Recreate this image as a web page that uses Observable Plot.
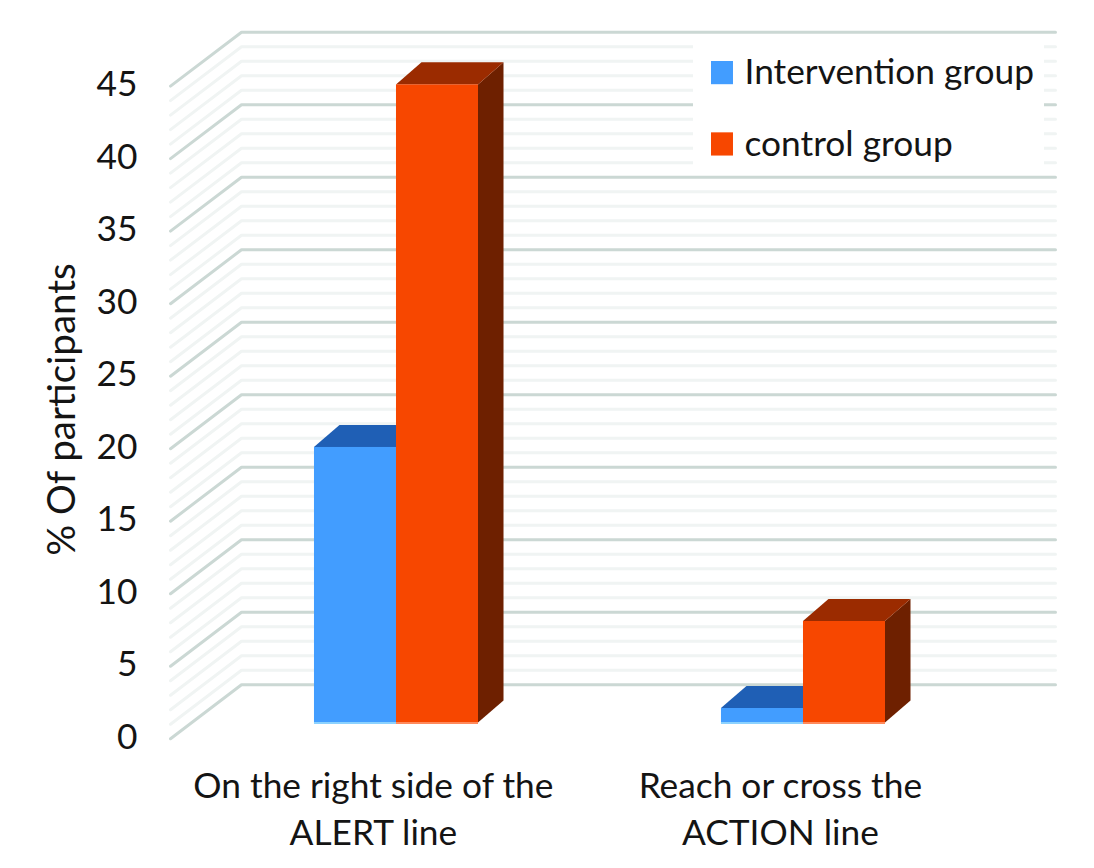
<!DOCTYPE html>
<html><head><meta charset="utf-8">
<style>html,body{margin:0;padding:0;background:#fff}svg{display:block}</style>
<script src="https://cdn.jsdelivr.net/npm/d3@7"></script>
<script src="https://cdn.jsdelivr.net/npm/@observablehq/plot@0.6"></script>
</head><body><script>
const categories = ["On the right side of the\nALERT line", "Reach or cross the\nACTION line"];
const groups = ["Intervention group", "control group"];
const intervention = [19, 1];
const control = [44, 7];
const yTicks = [0, 5, 10, 15, 20, 25, 30, 35, 40, 45];
const yMinor = d3.range(0, 46).filter(v => v % 5 !== 0);
const yTitle = "% Of participants";

const colors = {
  "Intervention group": {front: "#429dff", top: "#1f5fb5", side: "#15407a", base: "#8cd2ff"},
  "control group": {front: "#f74700", top: "#9b2b00", side: "#6e2000", base: "#ff8a5c"}
};
// Projection of the 3D box, expressed in scale units
const wall = {dx: -0.1744, dy: -3.72};
const barW = 0.2015, depthX = 0.0627, depthY = 1.52, baseY = -2.634, groupCentre = 0.3808;

const wallRows = (ticks) => ticks.flatMap(t => [
  {t, x: wall.dx, y: t + wall.dy}, {t, x: 0, y: t}, {t, x: 2, y: t}
]);
const bars = categories.flatMap((c, i) => [
  {g: groups[0], v: intervention[i], x1: i + groupCentre - barW, x2: i + groupCentre},
  {g: groups[1], v: control[i], x1: i + groupCentre, x2: i + groupCentre + barW}
]).map((b, k) => ({...b, k, h: baseY + b.v}));
const faceMarks = bars.flatMap(b => {
  const c = colors[b.g];
  const top = [{y: b.h, a: b.x1, b: b.x2}, {y: b.h + depthY, a: b.x1 + depthX, b: b.x2 + depthX}];
  const side = [{x: b.x2, lo: baseY, hi: b.h}, {x: b.x2 + depthX, lo: baseY + depthY, hi: b.h + depthY}];
  return [
    Plot.areaY(side, {x: "x", y1: "lo", y2: "hi", fill: c.side}),
    Plot.areaX(top, {y: "y", x1: "a", x2: "b", fill: c.top}),
    Plot.rect([b], {x1: "x1", x2: "x2", y1: baseY, y2: "h", fill: c.front}),
    Plot.ruleY([baseY], {x1: b.x1, x2: b.x2, stroke: c.base, strokeWidth: 2})
  ];
});

const legendBox = {x1: 1.1106, x2: 1.973, y1: 35.26, y2: 44.09};
const legendRows = groups.map((g, i) => ({g, y: [42.18, 37.26][i]}));
const fs = 35.3;
const ink = "#141414";

const chart = Plot.plot({
  width: 1094, height: 868,
  marginTop: 0, marginRight: 0, marginBottom: 0, marginLeft: 137,
  x: {domain: [0, 2], range: [241, 1055], axis: null},
  y: {domain: [0, 45], range: [684.3, 31.7], axis: null},
  style: {fontFamily: "Lato", background: "#fff", color: ink, overflow: "visible"},
  marks: [
    Plot.line(wallRows(yMinor), {x: "x", y: "y", z: "t", stroke: "#f0f4f3", strokeWidth: 3, curve: "linear"}),
    Plot.line(wallRows(yTicks), {x: "x", y: "y", z: "t", stroke: "#cbd8d4", strokeWidth: 3, curve: "linear"}),
    Plot.rect([legendBox], {x1: "x1", x2: "x2", y1: "y1", y2: "y2", fill: "#fff"}),
    ...faceMarks,
    Plot.axisY(yTicks, {anchor: "left", tickSize: 0, tickPadding: 0, dy: 52.5, fontSize: fs, label: null, fill: ink}),
    Plot.text([yTitle], {frameAnchor: "left", textAnchor: "middle", rotate: -90, dx: -75, dy: -25, fontSize: 38.5, fill: ink}),
    Plot.text(categories, {x: (d, i) => i + 0.324, y: -5.5, lineAnchor: "top", textAnchor: "middle", lineHeight: 1.33, fontSize: fs, fill: ink}),
    Plot.rect(legendRows, {x1: 1.1548, x2: 1.2088, y1: d => d.y - 0.8, y2: d => d.y + 0.8, fill: d => colors[d.g].front}),
    Plot.text(legendRows, {x: 1.236, y: "y", text: "g", textAnchor: "start", fontSize: fs, fill: ink})
  ]
});
document.body.append(chart);
</script></body></html>
